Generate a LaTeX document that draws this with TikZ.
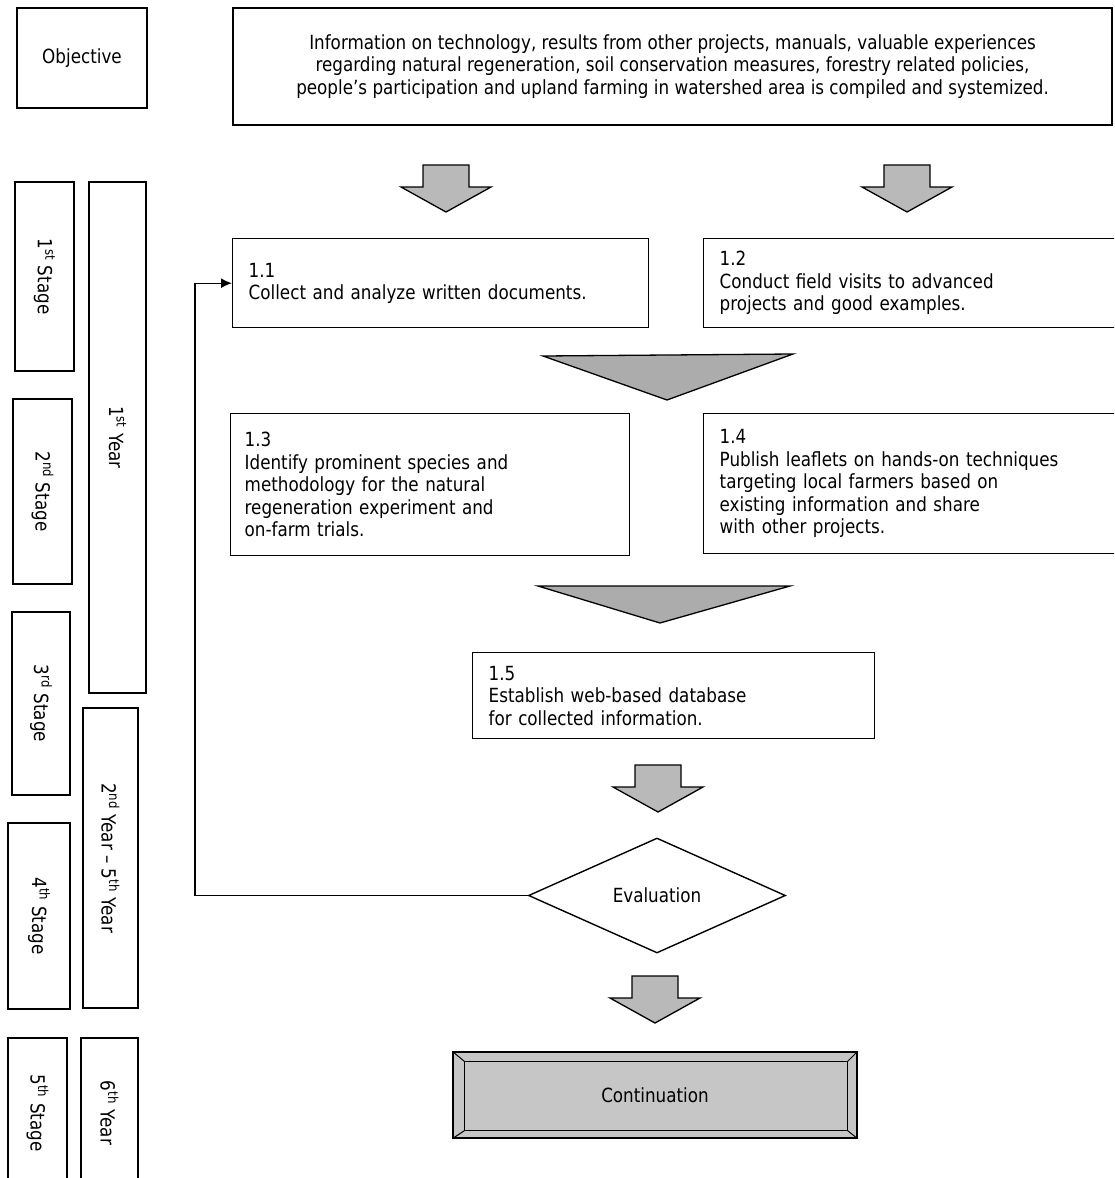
\documentclass[tikz,border=0pt]{standalone}
\usepackage{fontspec}
\setmainfont{DejaVu Sans}[FakeStretch=0.86]
\usetikzlibrary{shapes.geometric,arrows.meta,calc}
\tikzset{
  box/.style={draw, line width=1.4pt, fill=white, inner sep=0pt},
  sidebox/.style={box, rotate=-90},
  taskbox/.style={box, anchor=north west, align=left, inner xsep=16pt, inner ysep=0pt},
  arrowfill/.style={fill=gray!55, draw=black, line width=1.3pt, line join=miter},
  darrow/.pic={\filldraw[arrowfill] (-23,0) -- (23,0) -- (23,22) -- (45,22) -- (0,47) -- (-45,22) -- (-23,22) -- cycle;},
  conn/.style={draw, line width=1.4pt}
}
\begin{document}
\begin{tikzpicture}[x=1pt,y=-1pt,font=\fontsize{19.5pt}{22.5pt}\selectfont]
\useasboundingbox (0,0) rectangle (1114,1178);
\begin{scope}
\clip (0,0) rectangle (1114,1178);
% left column
\node[box, minimum width=130pt, minimum height=100pt] (obj) at (82,58) {Objective};
\node[sidebox, minimum width=189pt, minimum height=59pt] (s1) at (44.5,276.5) {1\textsuperscript{st} Stage};
\node[sidebox, minimum width=511pt, minimum height=57pt] (y1) at (117.5,437.5) {1\textsuperscript{st} Year};
\node[sidebox, minimum width=185pt, minimum height=59pt] (s2) at (42.5,491.5) {2\textsuperscript{nd} Stage};
\node[sidebox, minimum width=183pt, minimum height=58pt] (s3) at (41,703.5) {3\textsuperscript{rd} Stage};
\node[sidebox, minimum width=300pt, minimum height=55pt] (y25) at (110.5,858) {2\textsuperscript{nd} Year -- 5\textsuperscript{th} Year};
\node[sidebox, minimum width=186pt, minimum height=62pt] (s4) at (39,916) {4\textsuperscript{th} Stage};
\node[sidebox, minimum width=150pt, minimum height=59pt] (s5) at (37.5,1113) {5\textsuperscript{th} Stage};
\node[sidebox, minimum width=150pt, minimum height=57pt] (y6) at (109.5,1113) {6\textsuperscript{th} Year};

% objective text box
\node[box, minimum width=879pt, minimum height=117pt, align=center] (info) at (672.5,66.5)
 {Information on technology, results from other projects, manuals, valuable experiences\\
  regarding natural regeneration, soil conservation measures, forestry related policies,\\
  people's participation and upland farming in watershed area is compiled and systemized.};

% task boxes
\node[taskbox, minimum height=89pt, text width=384pt] (b11) at (232,238)
 {1.1\\Collect and analyze written documents.};
\node[taskbox, minimum height=89pt, text width=388pt] (b12) at (703,238)
 {1.2\\Conduct field visits to advanced\\projects and good examples.};
\node[taskbox, minimum height=142pt, text width=371pt, inner xsep=14pt] (b13) at (230,413)
 {1.3\\Identify prominent species and\\methodology for the natural\\regeneration experiment and\\on-farm trials.};
\node[taskbox, minimum height=140pt, text width=388pt] (b14) at (703,413)
 {1.4\\Publish leaflets on hands-on techniques\\targeting local farmers based on\\existing information and share\\with other projects.};
\node[taskbox, minimum height=86pt, text width=370pt] (b15) at (472,652)
 {1.5\\Establish web-based database\\for collected information.};

% block arrows
\pic at (446,165) {darrow};
\pic at (907,165) {darrow};
\filldraw[arrowfill, fill=gray!65] (543,356) -- (793,354) -- (667,400) -- cycle;
\filldraw[arrowfill, fill=gray!65] (538,586) -- (790,586) -- (660,623) -- cycle;
\pic at (658,765) {darrow};
\pic at (655,976) {darrow};

% evaluation
\node[diamond, draw, line width=1.4pt, fill=white, minimum width=257pt, minimum height=115pt, inner sep=0pt] (eval) at (657,895.5) {Evaluation};
\coordinate (fb) at (195,0);
\draw[conn, -{Latex[length=11pt,width=10pt]}] (eval.west) -- (eval.west -| fb) |- (b11.west);

% continuation
\node[draw, line width=1.4pt, fill=gray!45, minimum width=404pt, minimum height=86pt, inner sep=0pt] (cont) at (655,1095) {Continuation};
\coordinate (ci1) at ($(cont.north west)+(12,10)$);
\coordinate (ci2) at ($(cont.south east)+(-10,-8)$);
\draw[line width=1pt] (ci1) rectangle (ci2);
\draw[line width=1pt] (cont.north west) -- (ci1);
\draw[line width=1pt] (cont.south east) -- (ci2);
\draw[line width=1pt] (cont.north east) -- (ci1 -| ci2);
\draw[line width=1pt] (cont.south west) -- (ci1 |- ci2);
\end{scope}
\end{tikzpicture}
\end{document}
